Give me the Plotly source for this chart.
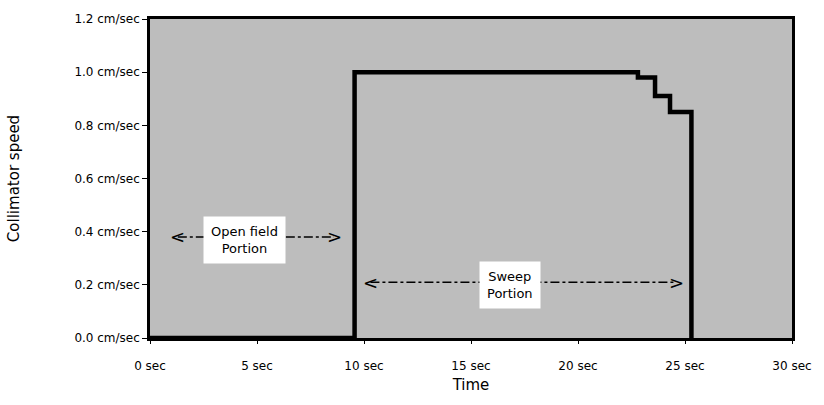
import plotly.graph_objects as go

# Collimator speed profile (step trace)
time_s = [0, 9.56, 22.8, 23.6, 24.3, 25.3]
speed_cm_s = [0.0, 1.0, 0.98, 0.91, 0.85, 0.0]

x_ticks = [0, 5, 10, 15, 20, 25, 30]
y_ticks = [0.0, 0.2, 0.4, 0.6, 0.8, 1.0, 1.2]

# Region labels: (text, x centre, y centre)
open_label = ("Open field<br>Portion", 4.4, 0.37)
sweep_label = ("Sweep<br>Portion", 16.8, 0.20)
# Arrow spans: (x start, x end, y)
open_arrow = (1.3, 8.6, 0.38)
sweep_arrow = (10.3, 24.6, 0.21)

FONT = "'DejaVu Sans', sans-serif"

fig = go.Figure()
fig.add_trace(go.Scatter(
    x=time_s, y=speed_cm_s, mode="lines",
    line=dict(color="black", width=4.5, shape="hv"),
    cliponaxis=False, showlegend=False, hoverinfo="skip",
))

shapes = []
annotations = []
for (x0, x1, y) in (open_arrow, sweep_arrow):
    shapes.append(dict(type="line", xref="x", yref="y", x0=x0, x1=x1, y0=y, y1=y,
                       line=dict(color="black", width=1.5, dash="dashdot"), layer="above"))
    annotations.append(dict(x=x0, y=y, xref="x", yref="y", text="<", showarrow=False,
                            font=dict(family=FONT, size=18, color="black"), xanchor="center"))
    annotations.append(dict(x=x1, y=y, xref="x", yref="y", text=">", showarrow=False,
                            font=dict(family=FONT, size=18, color="black"), xanchor="center"))

for (txt, x, y) in (open_label, sweep_label):
    annotations.append(dict(x=x, y=y, xref="x", yref="y", text=txt, showarrow=False,
                            bgcolor="white", borderpad=7,
                            font=dict(family=FONT, size=13, color="black")))

fig.update_layout(
    width=824, height=405,
    margin=dict(l=150, r=31, t=16, b=67),
    paper_bgcolor="white",
    plot_bgcolor="#bdbdbd",
    font=dict(family=FONT, color="black"),
    shapes=shapes,
    annotations=annotations,
)
fig.update_xaxes(
    range=[0, 30], tickvals=x_ticks, ticktext=[f"{v} sec" for v in x_ticks],
    showgrid=False, zeroline=False,
    showline=True, linecolor="black", linewidth=2.5, mirror=True,
    ticks="outside", ticklen=3, tickcolor="black",
    ticklabelstandoff=12,
    tickfont=dict(family=FONT, size=12),
    title=dict(text="Time", font=dict(family=FONT, size=15), standoff=8),
)
fig.update_yaxes(
    range=[0, 1.2], tickvals=y_ticks, ticktext=[f"{v:.1f} cm/sec" for v in y_ticks],
    showgrid=False, zeroline=False,
    showline=True, linecolor="black", linewidth=2.5, mirror=True,
    ticks="outside", ticklen=5, tickcolor="black",
    tickfont=dict(family=FONT, size=12),
    title=dict(text="Collimator speed", font=dict(family=FONT, size=15), standoff=52),
)

fig.write_html("out.html")
